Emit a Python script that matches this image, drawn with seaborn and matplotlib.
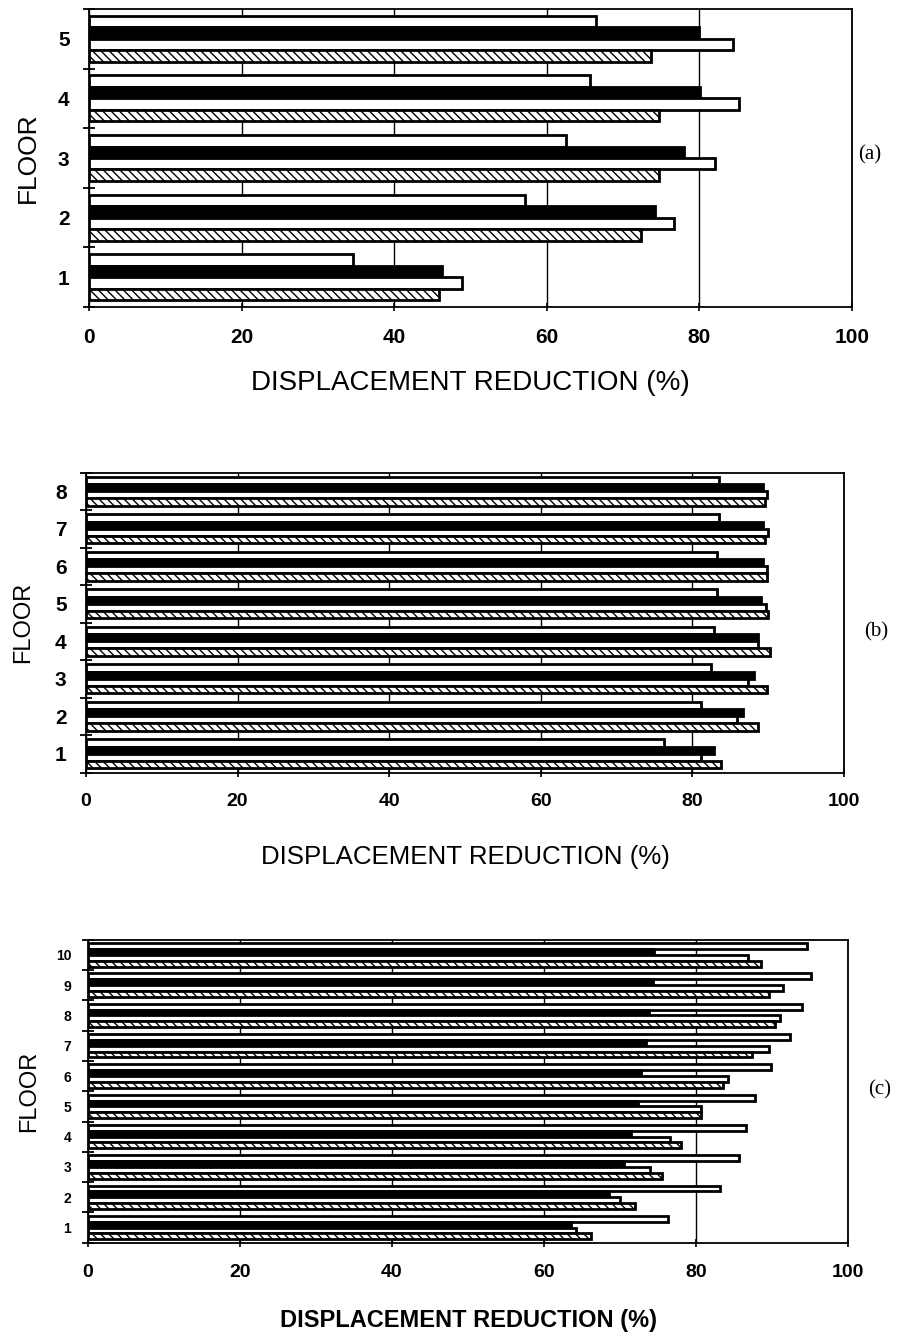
import numpy as np
import pandas as pd
import matplotlib
matplotlib.use("Agg")
import matplotlib.pyplot as plt
import seaborn as sns

sns.set_theme(style="white")
plt.rcParams['font.family'] = ['Liberation Sans', 'DejaVu Sans']
plt.rcParams['hatch.linewidth'] = 1.0
plt.rcParams['text.color'] = 'black'
plt.rcParams['axes.labelcolor'] = 'black'
plt.rcParams['xtick.color'] = 'black'
plt.rcParams['ytick.color'] = 'black'

# ---------------- data ----------------
series_names = ["S1", "S2", "S3", "S4"]
series_colors = ["white", "black", "white", "white"]
x_ticks = [0, 20, 40, 60, 80, 100]

floors_a = [1, 2, 3, 4, 5]
a_white1 = [34.6, 57.2, 62.5, 65.6, 66.5]
a_black = [46.3, 74.2, 78.0, 80.1, 80.0]
a_white2 = [48.9, 76.7, 82.1, 85.2, 84.4]
a_hatched = [45.9, 72.4, 74.7, 74.7, 73.7]

floors_b = [1, 2, 3, 4, 5, 6, 7, 8]
b_white1 = [76.3, 81.2, 82.5, 82.8, 83.2, 83.2, 83.5, 83.5]
b_black = [82.8, 86.7, 88.1, 88.7, 89.1, 89.3, 89.3, 89.3]
b_white2 = [81.1, 85.9, 87.4, 88.7, 89.7, 89.9, 90.0, 89.9]
b_hatched = [83.8, 88.6, 89.9, 90.2, 90.0, 89.9, 89.6, 89.6]

floors_c = [1, 2, 3, 4, 5, 6, 7, 8, 9, 10]
c_white1 = [76.3, 83.2, 85.6, 86.6, 87.8, 89.9, 92.4, 93.9, 95.1, 94.6]
c_black = [63.5, 68.5, 70.5, 71.5, 72.4, 72.8, 73.4, 73.8, 74.4, 74.5]
c_white2 = [64.2, 70.0, 73.9, 76.6, 80.6, 84.2, 89.6, 91.1, 91.5, 86.8]
c_hatched = [66.2, 72.0, 75.5, 78.0, 80.6, 83.5, 87.4, 90.4, 89.6, 88.6]

x_label = "DISPLACEMENT REDUCTION (%)"
y_label = "FLOOR"
panel_labels = ["(a)", "(b)", "(c)"]


def make_df(floors, *series):
    rows = []
    for name, vals in zip(series_names, series):
        for f, v in zip(floors, vals):
            rows.append({"floor": str(f), "series": name, "value": v})
    return pd.DataFrame(rows)


palette = dict(zip(series_names, series_colors))

W, H = 907, 1336
fig = plt.figure(figsize=(W / 100, H / 100), dpi=100)


def add_ax(left, right, top, bottom):
    return fig.add_axes([left / W, 1 - bottom / H, (right - left) / W, (bottom - top) / H])


def draw(ax, df, floors, ytick_fs, xtick_fs, xlab_fs, ylab_fs, lw, xlab_y, ylab_x,
         ypad=14, bold_lab=False):
    n = len(floors)
    order = [str(f) for f in reversed(floors)]
    sns.barplot(data=df, x="value", y="floor", hue="series", order=order,
                hue_order=series_names, palette=palette, orient="h",
                width=0.77, edgecolor="black", linewidth=lw, saturation=1,
                legend=False, ax=ax, zorder=3)
    for patch in ax.containers[3]:
        patch.set_hatch('\\\\\\\\')
    ax.set_xlim(0, 100)
    ax.set_ylim(n - 0.5, -0.5)
    ax.set_xticks(x_ticks)
    ax.set_xticklabels([str(t) for t in x_ticks], fontsize=xtick_fs, fontweight="bold")
    ax.set_yticks(range(n))
    ax.set_yticklabels(order, fontsize=ytick_fs, fontweight="bold")
    ax.set_yticks(np.arange(-0.5, n, 1.0), minor=True)
    ax.tick_params(axis="y", which="major", length=0, pad=ypad)
    ax.tick_params(axis="y", which="minor", length=9, width=1.3, direction="inout", left=True)
    ax.tick_params(axis="x", which="major", length=6, width=1.2, direction="inout", bottom=True, pad=12)
    ax.grid(axis="x", color="black", linewidth=1.0, zorder=0)
    ax.grid(axis="y", visible=False)
    ax.set_axisbelow(True)
    for sp in ax.spines.values():
        sp.set_color("black")
        sp.set_linewidth(1.3)
        sp.set_visible(True)
    ax.set_xlabel(x_label, fontsize=xlab_fs, fontweight="bold" if bold_lab else "normal",
                  color="black")
    ax.xaxis.set_label_coords(0.5, xlab_y)
    ax.set_ylabel(y_label, fontsize=ylab_fs, color="black")
    ax.yaxis.set_label_coords(ylab_x, 0.5)
    ax.tick_params(colors="black")


ax_a = add_ax(89, 852, 9, 307)
draw(ax_a, make_df(floors_a, a_white1, a_black, a_white2, a_hatched), floors_a,
     ytick_fs=15, xtick_fs=15, xlab_fs=20, ylab_fs=19, lw=2.0, xlab_y=-0.21, ylab_x=-0.064)

ax_b = add_ax(86, 844, 472.5, 772.5)
draw(ax_b, make_df(floors_b, b_white1, b_black, b_white2, b_hatched), floors_b,
     ytick_fs=15, xtick_fs=14, xlab_fs=18.6, ylab_fs=17, lw=2.0, xlab_y=-0.24, ylab_x=-0.069)

ax_c = add_ax(88, 848, 939.7, 1242.7)
draw(ax_c, make_df(floors_c, c_white1, c_black, c_white2, c_hatched), floors_c,
     ytick_fs=10, xtick_fs=14, xlab_fs=17, ylab_fs=17, lw=2.0, xlab_y=-0.22, ylab_x=-0.063,
     ypad=12, bold_lab=True)

for lab, (px, py) in zip(panel_labels, [(870, 155), (876, 632), (880, 1090)]):
    fig.text(px / W, 1 - py / H, lab, fontsize=15, family="Liberation Serif",
             ha="center", va="center", color="black")

fig.savefig("out.png", dpi=100)
